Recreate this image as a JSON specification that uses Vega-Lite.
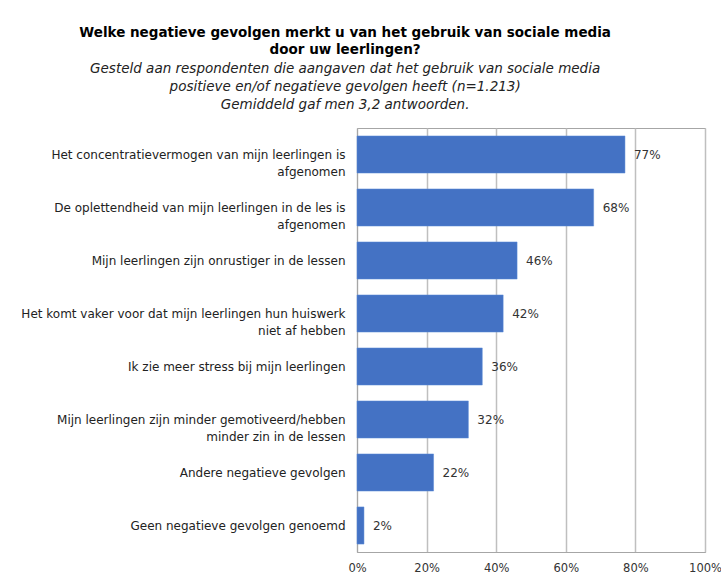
{
  "$schema": "https://vega.github.io/schema/vega-lite/v6.json",
  "width": 348,
  "height": 424,
  "padding": {"left": 20, "top": 26, "right": 5, "bottom": 0},
  "background": "white",
  "title": {
    "text": ["Welke negatieve gevolgen merkt u van het gebruik van sociale media", "door uw leerlingen?"],
    "subtitle": ["Gesteld aan respondenten die aangaven dat het gebruik van sociale media", "positieve en/of negatieve gevolgen heeft (n=1.213)", "Gemiddeld gaf men 3,2 antwoorden."],
    "anchor": "middle",
    "frame": "bounds",
    "dx": -26,
    "font": "DejaVu Sans",
    "fontSize": 13.5,
    "fontWeight": "bold",
    "color": "#000000",
    "lineHeight": 17,
    "subtitleFont": "DejaVu Sans",
    "subtitleFontSize": 13.5,
    "subtitleFontStyle": "italic",
    "subtitleColor": "#222222",
    "subtitleLineHeight": 18,
    "subtitlePadding": 5,
    "offset": 17
  },
  "data": {
    "values": [
      {"label": "Het concentratievermogen van mijn leerlingen is|afgenomen", "value": 0.77},
      {"label": "De oplettendheid van mijn leerlingen in de les is|afgenomen", "value": 0.68},
      {"label": "Mijn leerlingen zijn onrustiger in de lessen", "value": 0.46},
      {"label": "Het komt vaker voor dat mijn leerlingen hun huiswerk|niet af hebben", "value": 0.42},
      {"label": "Ik zie meer stress bij mijn leerlingen", "value": 0.36},
      {"label": "Mijn leerlingen zijn minder gemotiveerd/hebben|minder zin in de lessen", "value": 0.32},
      {"label": "Andere negatieve gevolgen", "value": 0.22},
      {"label": "Geen negatieve gevolgen genoemd", "value": 0.02}
    ]
  },
  "config": {
    "view": {"stroke": "#a6a6a6", "strokeWidth": 1},
    "font": "DejaVu Sans"
  },
  "encoding": {
    "y": {
      "field": "label",
      "type": "nominal",
      "sort": null,
      "scale": {"paddingInner": 0.3, "paddingOuter": 0.15},
      "axis": {
        "title": null,
        "ticks": false,
        "domain": true,
        "domainColor": "#a6a6a6",
        "labelExpr": "split(datum.label, '|')",
        "labelFont": "DejaVu Sans",
        "labelFontSize": 12,
        "labelColor": "#222222",
        "labelPadding": 12,
        "labelLimit": 400,
        "labelLineHeight": 17
      }
    },
    "x": {
      "field": "value",
      "type": "quantitative",
      "scale": {"domain": [0, 1]},
      "axis": {
        "title": null,
        "values": [0, 0.2, 0.4, 0.6, 0.8, 1],
        "format": ".0%",
        "ticks": false,
        "domainColor": "#a6a6a6",
        "gridColor": "#bfbfbf",
        "gridWidth": 1.5,
        "labelFont": "DejaVu Sans",
        "labelFontSize": 11.5,
        "labelColor": "#333333",
        "labelPadding": 10,
        "labelFlush": false
      }
    }
  },
  "layer": [
    {"mark": {"type": "bar", "color": "#4472C4", "stroke": "#5b8bd6", "strokeWidth": 0.5}},
    {
      "mark": {"type": "text", "align": "left", "dx": 9, "font": "DejaVu Sans", "fontSize": 12, "color": "#333333"},
      "encoding": {"text": {"field": "value", "type": "quantitative", "format": ".0%"}}
    }
  ]
}
